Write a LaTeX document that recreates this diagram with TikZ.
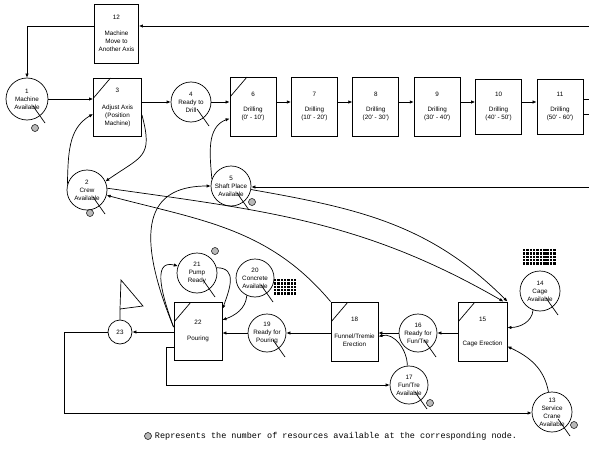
\documentclass[tikz,border=0pt]{standalone}
\usepackage{fontspec}
\newfontfamily\lblfont{Liberation Sans}
\newfontfamily\legfont{Liberation Mono}
\usetikzlibrary{arrows.meta, positioning}

\begin{document}
\begin{tikzpicture}[
    x=1pt, y=1pt,
    >={Latex[length=4pt, width=3.4pt]},
    every node/.style={font=\lblfont\fontsize{6.3}{8}\selectfont, align=center},
    act/.style={draw, line width=0.9pt, minimum width=46pt, minimum height=59pt, inner sep=0pt},
    cut/.style={path picture={\draw[line width=0.7pt] (path picture bounding box.north west) ++(0pt,-20pt) -- ++(17pt,20pt);}},
    res/.style={draw, circle, line width=0.7pt, minimum size=40pt, inner sep=0pt},
    tok/.style={draw, circle, fill=gray!55, line width=0.5pt, minimum size=7pt, inner sep=0pt},
    flow/.style={->, line width=0.7pt},
]
    \useasboundingbox (0,0) rectangle (589,-452);

    % machine / drilling row
    \node[act, minimum width=44pt] (mmove) at (116.5,-33.5) {12\\[8pt]Machine\\Move to\\Another Axis};
    \node[res, minimum size=42pt] (mavail) at (27,-99) {1\\Machine\\Available};
    \node[act, minimum width=48pt, minimum height=58pt, cut] (adjust) at (117.5,-107) {3\\[9pt]Adjust Axis\\(Position\\Machine)};
    \node[res] (rdrill) at (191,-102) {4\\Ready to\\Drill};
    \node[act, cut] (d6) at (253,-106.5) {6\\[7pt]Drilling\\(0' - 10')};
    \node[act, right=14.5pt of d6] (d7) {7\\[7pt]Drilling\\(10' - 20')};
    \node[act, right=14.5pt of d7] (d8) {8\\[7pt]Drilling\\(20' - 30')};
    \node[act, right=14.5pt of d8] (d9) {9\\[7pt]Drilling\\(30' - 40')};
    \node[act, right=14.5pt of d9, minimum height=55pt] (d10) {10\\[7pt]Drilling\\(40' - 50')};
    \node[act, right=14.5pt of d10, minimum height=55pt] (d11) {11\\[7pt]Drilling\\(50' - 60')};
    \node[res] (crew) at (87,-190) {2\\Crew\\Available};
    \node[res] (shaft) at (231,-186) {5\\Shaft Place\\Available};

    % pouring / cage row
    \node[res] (pump) at (197,-273) {21\\Pump\\Ready};
    \node[res, minimum size=38pt] (conc) at (255,-278) {20\\Concrete\\Available};
    \node[act, minimum width=48pt, minimum height=58pt, cut] (pour) at (198,-331) {22\\[8pt]Pouring};
    \node[res, minimum size=24pt] (tank) at (120,-332) {23};
    \node[res, minimum size=38pt] (pready) at (267,-333) {19\\Ready for\\Pouring};
    \node[act, minimum width=47pt, cut] (fun) at (354.5,-331.5) {18\\[9pt]Funnel/Tremie\\Erection};
    \node[res, minimum size=38pt] (fready) at (418,-333) {16\\Ready for\\Fun/Tre};
    \node[act, minimum width=49pt, cut] (cage) at (482.5,-331.5) {15\\[16pt]Cage Erection};
    \node[res] (cavail) at (540,-291) {14\\Cage\\Available};
    \node[res, minimum size=38pt] (favail) at (409,-385) {17\\Fun/Tre\\Available};
    \node[res] (crane) at (552,-412) {13\\Service\\Crane\\Available};

    % resource marks
    \foreach \n in {mavail, rdrill, crew, shaft, pump, conc, pready, fready, cavail, favail, crane}
        \draw[line width=0.7pt] (\n.center) ++(6pt,-7pt) -- ++(12pt,-17pt);
    \node[tok] (tok1) at (35,-128) {};
    \node[tok] (tok2) at (90,-213) {};
    \node[tok] (tok5) at (252,-202) {};
    \node[tok] (tok21) at (215,-251) {};
    \node[tok] (tok17) at (430,-403) {};
    \node[tok] (tok13) at (574,-425) {};
    \foreach \i in {0,...,6}
        \foreach \j in {0,...,4}
            \fill (274+3.3*\i,-279-3.3*\j) rectangle ++(2.4,-2.4);
    \foreach \i in {0,...,9}
        \foreach \j in {0,...,4}
            \fill (523+3.35*\i,-249-3.3*\j) rectangle ++(2.4,-2.4);
    \draw[line width=0.7pt] (tank.north) -- (120,-309) -- (143,-306) -- (121,-280) -- (120,-309);

    \coordinate (edgeA) at (589,-26);
    \coordinate (edgeB) at (589,-187);
    \coordinate (lowL) at (64,-413);

    % straight connectors
    \draw[flow] (edgeA) -- (edgeA -| mmove.east);
    \draw[flow] ([yshift=7.5pt]mmove.west) -| (mavail.north);
    \draw[flow] (mavail.east) -- (mavail.east -| adjust.west);
    \draw[flow] (adjust.east |- rdrill) -- (rdrill.west);
    \draw[flow] (rdrill.east) -- (rdrill.east -| d6.west);
    \foreach \a/\b in {d6/d7, d7/d8, d8/d9, d9/d10, d10/d11}
        \draw[flow] (\a.east |- rdrill) -- (\b.west |- rdrill);
    \draw[line width=0.7pt] ([yshift=7.5pt]d11.east) -- ++(10.5pt,0pt);
    \draw[line width=0.7pt] ([yshift=-7.5pt]d11.east) -- ++(10.5pt,0pt);
    \draw[flow] (edgeB) -- (edgeB -| shaft.east);
    \draw[flow] (pready.west) -- (pready.west -| pour.east);
    \draw[flow] (fun.west |- pready) -- (pready.east);
    \draw[flow] (fready.west) -- (fready.west -| fun.east);
    \draw[flow] (cage.west |- fready) -- (fready.east);
    \draw[flow] (pour.west |- tank) -- (tank.east);
    \draw[flow] (tank.west) -| (lowL) -- (lowL -| crane.west);
    \draw[flow] ([yshift=-16pt]pour.west) -- ++(-7pt,0pt) |- (favail.west);

    % curved connectors
    \draw[flow] (crew.165) to[out=88, in=210] ([yshift=-7pt]adjust.west);
    \draw[flow] ([yshift=-8pt]adjust.east) to[out=-75, in=35, looseness=1.5] (crew.25);
    \draw[flow] (shaft.160) to[out=95, in=200] ([yshift=-12pt]d6.west);
    \draw[flow] ([yshift=4pt]pour.west) .. controls +(-45,110) and +(-55,0) .. (shaft.west);
    \draw[flow] ([yshift=4pt]pour.west) to[out=110, in=165, looseness=1.2] (pump.160);
    \draw[flow] (pump.15) to[out=0, in=70, looseness=1.3] ([yshift=22pt]pour.east);
    \draw[flow] (conc.245) to[out=-95, in=20] ([yshift=11pt]pour.east);
    \draw[flow] (favail.95) to[out=90, in=15] ([yshift=-5pt]fun.east);
    \draw[flow] (cavail.250) to[out=-95, in=0] ([yshift=4pt]cage.east);
    \draw[flow] (crane.100) to[out=100, in=-25] ([yshift=-15pt]cage.east);
    \draw[flow] (crew.5) to[out=-8, in=150] ([xshift=-4pt]cage.north east);
    \draw[flow] (shaft.-10) to[out=-10, in=135] (cage.north east);
    \draw[flow] (fun.north west) to[out=130, in=-15] (crew.-15);

    % legend
    \node[tok] (key) at (148,-436) {};
    \node[right=3pt of key, inner sep=0pt, font=\legfont\fontsize{8.5}{10}\selectfont] (keytxt) {Represents the number of resources available at the corresponding node.};
\end{tikzpicture}
\end{document}
